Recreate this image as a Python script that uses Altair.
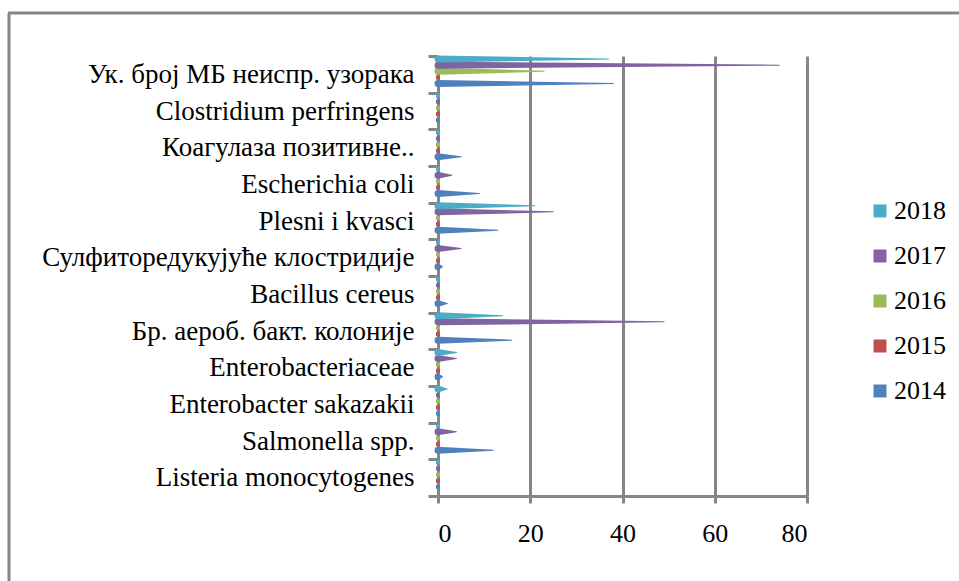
import altair as alt
import pandas as pd

categories = [
    "Ук. број МБ неиспр. узорака",
    "Clostridium perfringens",
    "Коагулаза позитивне..",
    "Escherichia coli",
    "Plesni i kvasci",
    "Сулфиторедукујуће клостридије",
    "Bacillus cereus",
    "Бр. аероб. бакт. колоније",
    "Enterobacteriaceae",
    "Enterobacter sakazakii",
    "Salmonella spp.",
    "Listeria monocytogenes",
]
years = ["2018", "2017", "2016", "2015", "2014"]
colors = ["#4BACC6", "#8064A2", "#9BBB59", "#C0504D", "#4F81BD"]

v2014 = [38, 0, 5, 9, 13, 1, 2, 16, 1, 0, 12, 0]
v2015 = [0, 0, 0, 0, 0, 0, 0, 0, 0, 0, 0, 0]
v2016 = [23, 0, 0, 0, 0, 0, 0, 0, 0, 0, 0, 0]
v2017 = [74, 0, 0, 3, 25, 5, 0, 49, 4, 0, 4, 0]
v2018 = [37, 0, 0, 0, 21, 0, 0, 14, 4, 2, 0, 0]
x_ticks = [0, 20, 40, 60, 80]

series = {"2014": v2014, "2015": v2015, "2016": v2016, "2017": v2017, "2018": v2018}

rows = []
for yr, vals in series.items():
    for cat, v in zip(categories, vals):
        rows.append({"cat": cat, "year": yr, "role": "base", "value": 0, "key": cat + "|" + yr})
        rows.append({"cat": cat, "year": yr, "role": "tip", "value": v, "key": cat + "|" + yr})
df = pd.DataFrame(rows)

GRAY = "#868686"
FONT = "Liberation Serif"

# one empty slot after 2014 keeps the group of cones in the upper part of each band
offset_domain = years + ["_"]

x_enc = alt.X(
    "value:Q",
    scale=alt.Scale(domain=[0, 80], nice=False),
    axis=alt.Axis(
        values=x_ticks, grid=True, gridColor=GRAY, gridWidth=3, gridOpacity=1,
        domainColor=GRAY, domainWidth=3, tickColor=GRAY, tickWidth=3, tickSize=7,
        labelFont=FONT, labelFontSize=26, labelColor="black", labelPadding=17,
        title=None,
    ),
)
y_enc = alt.Y(
    "cat:N",
    sort=categories,
    scale=alt.Scale(type="band", domain=categories, paddingInner=0, paddingOuter=0),
    axis=alt.Axis(
        tickBand="extent", ticks=True, tickSize=10, tickWidth=3, tickColor=GRAY,
        domainColor=GRAY, domainWidth=3, labelFont=FONT, labelFontSize=27,
        labelColor="black", labelPadding=14, labelLimit=420, title=None,
    ),
)
yoff_enc = alt.YOffset(
    "year:N",
    scale=alt.Scale(type="band", domain=offset_domain, paddingInner=0, paddingOuter=0),
)
color_scale = alt.Scale(domain=years, range=colors)

cones = alt.Chart(df).mark_trail().encode(
    x=x_enc,
    y=y_enc,
    yOffset=yoff_enc,
    color=alt.Color("year:N", scale=color_scale, legend=None),
    size=alt.Size("role:O", scale=alt.Scale(domain=["base", "tip"], range=[7, 0]), legend=None),
    detail="key:N",
)

# small bases of the cones at the axis; this layer also carries the legend
bases = alt.Chart(df).transform_filter(alt.datum.role == "base").mark_square(
    size=16, filled=True, opacity=1
).encode(
    x=x_enc,
    y=y_enc,
    yOffset=yoff_enc,
    color=alt.Color(
        "year:N",
        scale=color_scale,
        legend=alt.Legend(
            orient="none", legendX=429, legendY=142, direction="vertical",
            symbolType="square", symbolSize=169, symbolStrokeWidth=0,
            labelFont=FONT, labelFontSize=26, labelColor="black",
            rowPadding=19, labelOffset=1, title=None,
        ),
    ),
)

frame_df = pd.DataFrame({"a": [0]})
frame_left = alt.Chart(frame_df).mark_rule(color=GRAY, strokeWidth=3, clip=False).encode(
    x=alt.value(-429), y=alt.value(-43), y2=alt.value(530)
)
frame_top = alt.Chart(frame_df).mark_rule(color=GRAY, strokeWidth=3, clip=False).encode(
    x=alt.value(-430), x2=alt.value(530), y=alt.value(-43)
)

chart = alt.layer(frame_left, frame_top, bases, cones).properties(
    width=369,
    height=440,
    autosize=alt.AutoSizeParams(type="none"),
    padding={"left": 438, "top": 56, "right": 152, "bottom": 85},
    background="white",
).configure_view(stroke=None)

chart.save("out.html", embed_options={"renderer": "svg", "actions": False})
